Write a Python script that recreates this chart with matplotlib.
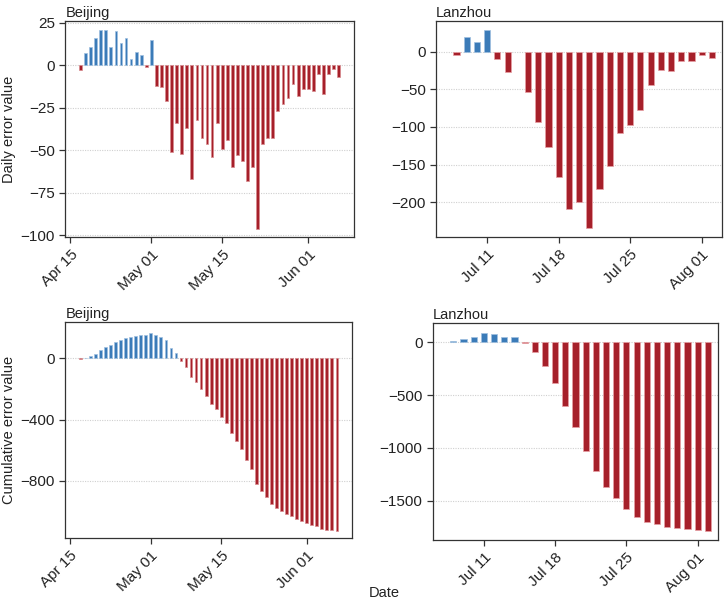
from datetime import date, timedelta

import matplotlib

matplotlib.use("Agg")
import matplotlib.dates as mdates
import matplotlib.pyplot as plt
import numpy as np

plt.rcParams["font.family"] = ["Liberation Sans", "DejaVu Sans"]

# Beijing, Apr 17 .. Jun 7
bj_start = date(2022, 4, 17)
bj_daily = [
    -3, 7, 11, 16, 21, 21, 11, 20, 13, 16, 4, 8, 6, -1, 15,
    -12, -13, -21, -51, -34, -52, -37, -67, -32, -43, -46, -54, -34, -49,
    -44, -60, -53, -56, -68, -60, -96, -46, -43, -43, -27, -23, -19, -11,
    -18, -14, -14, -15, -5, -17, -5, -2, -7,
]
bj_cumulative = [
    -3, 4, 15, 31, 52, 73, 84, 104, 117, 133, 137, 145, 151, 150, 165,
    153, 140, 119, 68, 34, -18, -55, -122, -154, -197, -243, -297, -331,
    -380, -424, -484, -537, -593, -661, -721, -817, -863, -906, -949, -976,
    -999, -1018, -1029, -1047, -1061, -1075, -1090, -1095, -1112, -1117,
    -1119, -1126,
]
bj_ticks = [date(2022, 4, 15), date(2022, 5, 1), date(2022, 5, 15), date(2022, 6, 1)]

# Lanzhou, Jul 8 .. Aug 2 (no value on Jul 14)
lz_start = date(2022, 7, 8)
lz_daily = [
    -5, 19, 13, 28, -10, -27, np.nan, -54, -94, -126, -167, -209, -200,
    -234, -182, -152, -108, -98, -77, -44, -24, -26, -12, -12, -5, -9,
]
lz_cumulative = [
    16, 32, 54, 85, 76, 47, 47, -10, -95, -224, -385, -600, -800, -1032,
    -1215, -1372, -1477, -1575, -1653, -1698, -1722, -1746, -1759, -1772,
    -1777, -1783,
]
lz_ticks = [date(2022, 7, 11), date(2022, 7, 18), date(2022, 7, 25), date(2022, 8, 1)]

BLUE = "#3b7bb8"
RED = "#a6202a"


def day_range(start, n):
    return [start + timedelta(days=i) for i in range(n)]


def draw_panel(ax, start, values, *, title, ticks, xlim, ylim, yticks, width, edge):
    days = day_range(start, len(values))
    vals = np.asarray(values, dtype=float)
    colors = [BLUE if v > 0 else RED for v in np.nan_to_num(vals)]
    edges = [edge[0] if v > 0 else edge[1] for v in np.nan_to_num(vals)]
    for y in yticks:
        ax.axhline(y, color="#d0d0d0", linewidth=0.8, linestyle=(0, (1, 1.2)), zorder=0)
    ax.bar(days, vals, width=width, color=colors, edgecolor=edges, linewidth=0.5, zorder=2)
    ax.set_xlim(mdates.date2num(xlim[0]), mdates.date2num(xlim[1]))
    ax.set_ylim(*ylim)
    ax.set_yticks(yticks)
    ax.set_xticks(ticks)
    ax.xaxis.set_major_formatter(mdates.DateFormatter("%b %d"))
    for label in ax.get_xticklabels():
        label.set_rotation(45)
        label.set_ha("right")
        label.set_rotation_mode("anchor")
    ax.tick_params(colors="#333333", labelcolor="#222222", labelsize=11, length=4, width=0.9)
    for side in ("top", "right", "bottom", "left"):
        ax.spines[side].set_color("#333333")
        ax.spines[side].set_linewidth(0.9)
    ax.set_title(title, loc="left", fontsize=10.5, pad=3, color="#222222")


fig = plt.figure(figsize=(7.28, 6.0), dpi=100)
ax_bd = fig.add_axes([0.0897, 0.605, 0.3963, 0.3605])
ax_ld = fig.add_axes([0.599, 0.605, 0.393, 0.3605])
ax_bc = fig.add_axes([0.0897, 0.1033, 0.3938, 0.3605])
ax_lc = fig.add_axes([0.5948, 0.100, 0.3915, 0.3617])

bj_xlim = (date(2022, 4, 14) + timedelta(hours=5), date(2022, 6, 10) + timedelta(hours=10))
draw_panel(ax_bd, bj_start, bj_daily, title="Beijing", ticks=bj_ticks, xlim=bj_xlim,
           ylim=(-101, 26.3), yticks=[25, 0, -25, -50, -75, -100], width=0.55,
           edge=("#9fc0e0", "#d88a8e"))
draw_panel(ax_bc, bj_start, bj_cumulative, title="Beijing", ticks=bj_ticks, xlim=bj_xlim,
           ylim=(-1172, 239), yticks=[0, -400, -800], width=0.55,
           edge=("#9fc0e0", "#d88a8e"))
draw_panel(ax_ld, lz_start, lz_daily, title="Lanzhou", ticks=lz_ticks,
           xlim=(date(2022, 7, 6) + timedelta(hours=12), date(2022, 8, 3)),
           ylim=(-246, 41), yticks=[0, -50, -100, -150, -200], width=0.6,
           edge=("#9fc0e0", "#e8a0a4"))
draw_panel(ax_lc, lz_start, lz_cumulative, title="Lanzhou", ticks=lz_ticks,
           xlim=(date(2022, 7, 6) + timedelta(hours=11), date(2022, 8, 3) + timedelta(hours=17)),
           ylim=(-1872, 183), yticks=[0, -500, -1000, -1500], width=0.6,
           edge=("#9fc0e0", "#e8a0a4"))

fig.text(0.0124, 0.785, "Daily error value", rotation=90, ha="center", va="center",
         fontsize=10.5, color="#222222")
fig.text(0.0124, 0.283, "Cumulative error value", rotation=90, ha="center", va="center",
         fontsize=10.5, color="#222222")
fig.text(0.528, 0.012, "Date", ha="center", va="center", fontsize=10.5, color="#222222")

fig.savefig("out.png", dpi=100)
plt.close(fig)
